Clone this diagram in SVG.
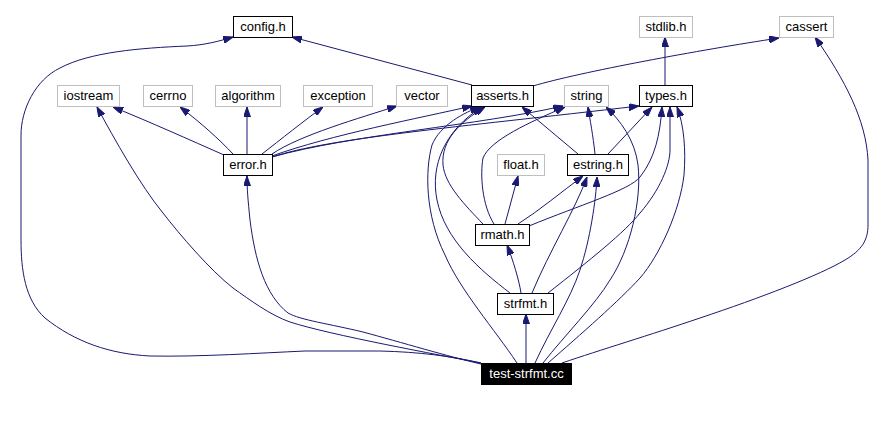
<svg xmlns="http://www.w3.org/2000/svg" width="887" height="433" viewBox="0 0 887 433">
<style>
.n rect{fill:#fff;stroke:#000;stroke-width:1}
.g rect{fill:#fff;stroke:#bfbfbf;stroke-width:1}
text{font-family:"Liberation Sans",Arial,sans-serif;font-size:13px;text-anchor:middle;fill:#000}
.e path{fill:none;stroke:#191970;stroke-width:1;marker-end:url(#a)}
</style>
<defs>
<marker id="a" viewBox="0 0 10 7" refX="10" refY="3.5" markerWidth="10" markerHeight="7" markerUnits="userSpaceOnUse" orient="auto">
<path d="M0,0 L10,3.5 L0,7 z" fill="#191970" stroke="#191970" stroke-width="1"/>
</marker>
</defs>
<rect width="887" height="433" fill="#fff"/>
<g class="e" id="edges">
<path d="M472,85 L292,37"/>
<path d="M533,86 C580,72 700,50 779,38"/>
<path d="M665,85 L665,37"/>
<path d="M224,155 C190,140 150,122 113,107"/>
<path d="M233,154 C220,140 200,122 180,107"/>
<path d="M247,154 L247,107"/>
<path d="M262,154 C280,140 305,120 323,107"/>
<path d="M272,154 C300,135 360,118 397,106"/>
<path d="M272,156 C330,135 420,118 472,106"/>
<path d="M272,157 C350,135 480,125 563,106"/>
<path d="M272,157 C330,138 450,128 639,106"/>
<path d="M578,154 L522,107"/>
<path d="M595,154 C593,135 590,120 588,107"/>
<path d="M608,154 L652,107"/>
<path d="M505,224 L518,176"/>
<path d="M518,224 C540,210 560,193 583,176"/>
<path d="M529,226 C580,205 630,190 640,177 C655,158 660,135 662,107"/>
<path d="M494,224 C482,205 480,175 483,158 C490,140 530,122 565,107"/>
<path d="M483,224 C465,205 445,185 443,165 C441,140 460,122 485,107"/>
<path d="M510,293 C480,270 445,240 437,200 C430,165 445,130 482,107"/>
<path d="M517,363 C495,330 460,290 445,255 C425,215 425,170 432,145 C440,125 465,112 480,107"/>
<path d="M521,293 C519,280 513,260 507,245"/>
<path d="M532,293 C550,250 575,210 587,177"/>
<path d="M548,293 C590,260 625,232 640,213 C660,190 670,165 670,150 L670,107"/>
<path d="M526,363 L526,314"/>
<path d="M535,363 C550,330 570,300 580,270 C590,240 596,200 597,177"/>
<path d="M543,363 C565,335 595,305 610,280 C630,250 642,200 638,165 C635,140 620,120 606,107"/>
<path d="M548,363 C580,335 620,300 640,278 C660,255 680,210 684,175 C686,150 684,125 677,107"/>
<path d="M562,363 C600,350 650,335 700,318 C760,298 820,275 845,260 C862,250 868,240 868,225 L868,160 C866,120 845,80 815,37"/>
<path d="M481,364 C450,357 400,342 363,332 C330,324 300,320 288,313 C265,295 255,260 250,220 C248,200 247,190 247,176"/>
<path d="M481,363 C440,355 330,335 290,322 C270,315 250,300 233,288 C210,270 180,235 163,213 C140,185 115,140 97,107"/>
<path d="M481,363 C450,356 420,352 380,351 L305,351 C260,353 200,357 150,356 C110,354 75,342 45,318 C25,300 21,270 21,240 L21,135 C21,110 35,80 60,68 C90,52 140,48 187,46 C205,45 220,41 233,37"/>
</g>
<g id="config" class="n"><rect x="233.5" y="16.5" width="59" height="21"/><text x="263" y="31">config.h</text></g>
<g id="stdlib" class="g"><rect x="639.5" y="16.5" width="53" height="21"/><text x="666" y="31">stdlib.h</text></g>
<g id="cassert" class="g"><rect x="779.5" y="16.5" width="54" height="21"/><text x="806.5" y="31">cassert</text></g>
<g id="iostream" class="g"><rect x="57.5" y="85.5" width="62" height="21"/><text x="88.5" y="100">iostream</text></g>
<g id="cerrno" class="g"><rect x="143.5" y="85.5" width="49" height="21"/><text x="168" y="100">cerrno</text></g>
<g id="algorithm" class="g"><rect x="215.5" y="85.5" width="65" height="21"/><text x="248" y="100">algorithm</text></g>
<g id="exception" class="g"><rect x="303.5" y="85.5" width="69" height="21"/><text x="338" y="100">exception</text></g>
<g id="vector" class="g"><rect x="396.5" y="85.5" width="51" height="21"/><text x="422" y="100">vector</text></g>
<g id="asserts" class="n"><rect x="471.5" y="85.5" width="62" height="21"/><text x="502.5" y="100">asserts.h</text></g>
<g id="string" class="g"><rect x="564.5" y="85.5" width="44" height="21"/><text x="586.5" y="100">string</text></g>
<g id="types" class="n"><rect x="639.5" y="85.5" width="53" height="21"/><text x="666" y="100">types.h</text></g>
<g id="error" class="n"><rect x="223.5" y="154.5" width="49" height="21"/><text x="248" y="169">error.h</text></g>
<g id="float" class="g"><rect x="497.5" y="154.5" width="47" height="21"/><text x="521" y="169">float.h</text></g>
<g id="estring" class="n"><rect x="567.5" y="154.5" width="61" height="21"/><text x="598" y="169">estring.h</text></g>
<g id="rmath" class="n"><rect x="475.5" y="224.5" width="54" height="21"/><text x="502.5" y="239">rmath.h</text></g>
<g id="strfmt" class="n"><rect x="497.5" y="293.5" width="56" height="21"/><text x="525.5" y="308">strfmt.h</text></g>
<g id="test"><rect x="481.5" y="363.5" width="90" height="21" fill="#000" stroke="#000"/><text x="526.5" y="378" fill="#fff" style="fill:#fff">test-strfmt.cc</text></g>
</svg>
